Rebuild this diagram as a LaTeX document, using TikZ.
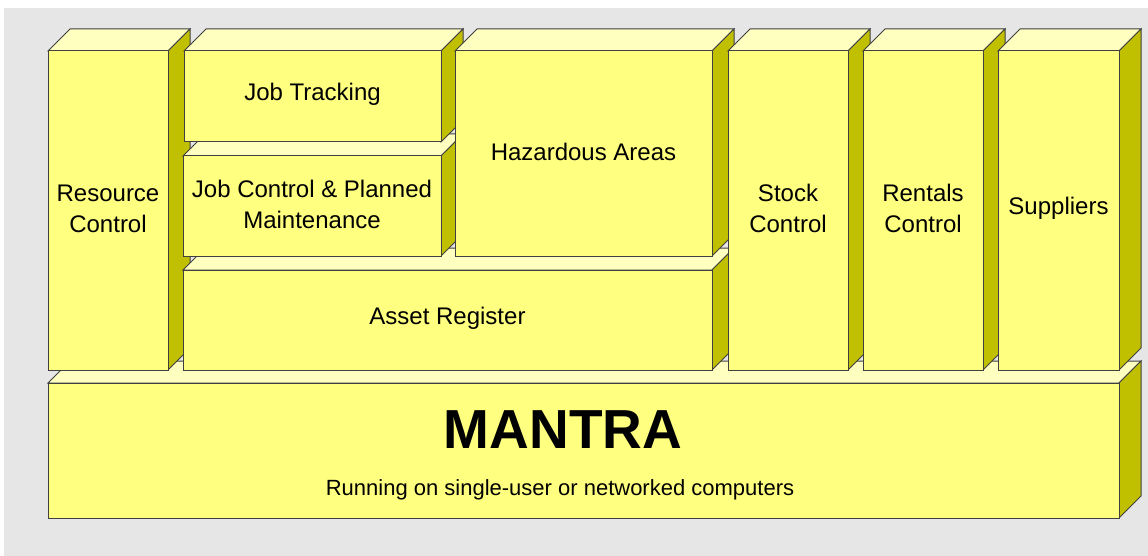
\documentclass[tikz,border=0pt]{standalone}
\usepackage{fontspec}
\setmainfont{Liberation Sans}
\definecolor{frontc}{HTML}{FFFF80}
\definecolor{topc}{HTML}{FFFFC0}
\definecolor{sidec}{HTML}{C0C000}
\definecolor{edgec}{HTML}{404040}
\definecolor{bgc}{HTML}{E6E6E6}
\tikzset{
  topface/.style={fill=topc, draw=edgec, line width=1pt, line join=miter},
  sideface/.style={fill=sidec, draw=edgec, line width=1pt},
  frontface/.style={fill=frontc, draw=edgec, line width=1pt},
  label/.style={align=center, inner sep=0pt, font=\fontsize{24}{31}\selectfont, text=black},
}
\newcommand\mycube[6]{%
  \filldraw[topface] (#2,#3) -- (#2+22,#3-22) -- (#4+22,#3-22) -- (#4,#3) -- cycle;
  \filldraw[sideface] (#4,#3) -- (#4+22,#3-22) -- (#4+22,#5-22) -- (#4,#5) -- cycle;
  \filldraw[frontface] (#2,#3) rectangle (#4,#5);
  \node[label] (#1) at ({(#2+#4)/2},{(#3+#5)/2-2}) {#6};
}
\begin{document}
\begin{tikzpicture}[x=1pt,y=-1pt]
\useasboundingbox (0,0) rectangle (1148,556);
\fill[white] (0,0) rectangle (1148,556);
\fill[bgc] (4,8) rectangle (1148,556);
% MANTRA base
\filldraw[topface] (48,383) -- (70,361) -- (1141,361) -- (1119,383) -- cycle;
\filldraw[sideface] (1119,383) -- (1141,361) -- (1141,496) -- (1119,518) -- cycle;
\filldraw[frontface] (48,383) rectangle (1119,518);
\node[inner sep=0pt, font=\fontsize{55}{60}\selectfont\bfseries] (mantra) at (563,430) {MANTRA};
\node[inner sep=0pt, font=\fontsize{22}{26}\selectfont, anchor=base] (running) at (560,495) {Running on single-user or networked computers};
% columns
\mycube{resource}{48}{51}{168}{370}{Resource\\Control}
\mycube{asset}{183}{270}{712}{370}{Asset Register}
\mycube{jobcontrol}{183}{156}{441}{256}{Job Control \& Planned\\Maintenance}
\mycube{jobtracking}{184}{51}{441}{142}{Job Tracking}
\mycube{hazard}{455}{51}{712}{256}{Hazardous Areas}
\mycube{stock}{728}{51}{848}{370}{Stock\\Control}
\mycube{rentals}{863}{51}{983}{370}{Rentals\\Control}
\mycube{suppliers}{998}{51}{1119}{370}{Suppliers}
\end{tikzpicture}
\end{document}
